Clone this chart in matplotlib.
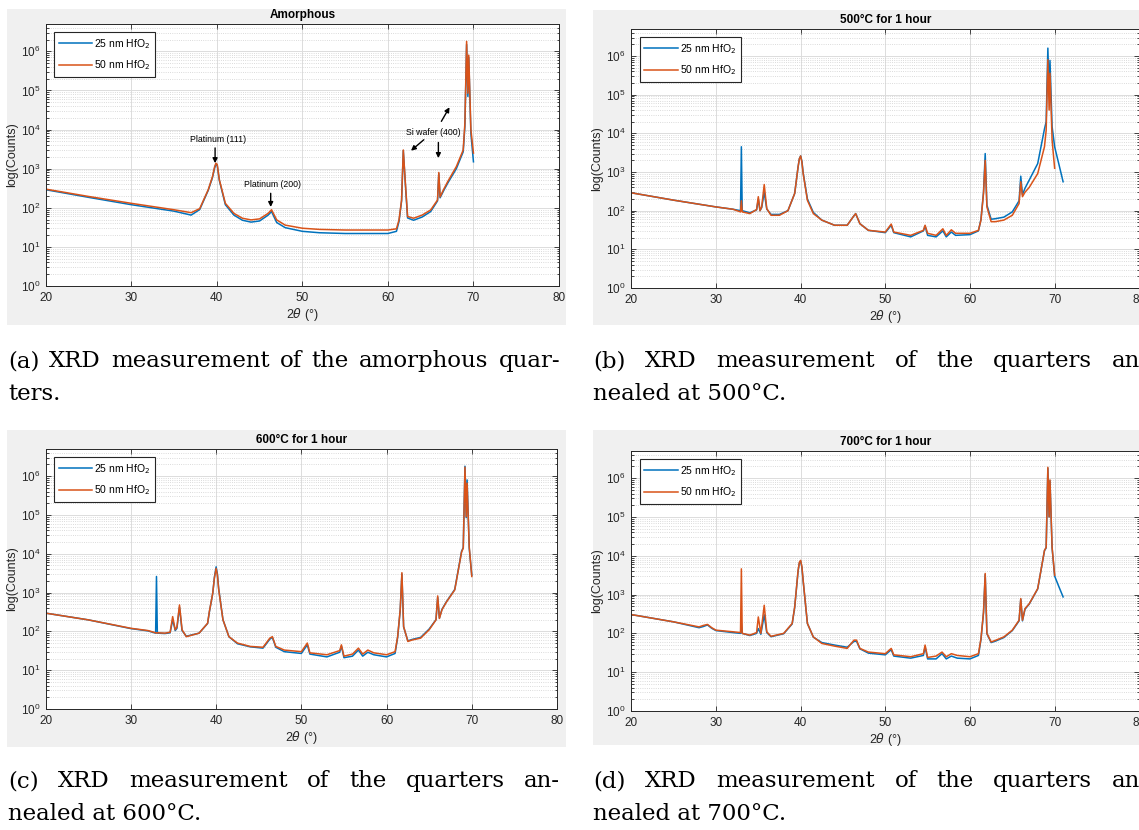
import numpy as np
import matplotlib.pyplot as plt
from matplotlib.patches import Rectangle

nan = np.nan

# ---- XRD scans, 2theta in degrees, counts ----
# amorphous
theta_a = [20, 25, 30, 35, 37, 38, 39, 39.5, 39.75, 39.9, 40.05, 40.3, 41, 42, 43, 44, 45, 46,
           46.4, 47, 48, 50, 52, 55, 58, 60, 61, 61.3, 61.6, 61.8, 62.0, 62.3, 63, 64, 65, 65.8,
           65.95, 66.1, 66.5, 67, 68, 68.8, 69.0, 69.2, 69.35, 69.45, 69.7, 70.0]
hfo25_a = [290, 185, 120, 82, 65, 90, 280, 600, 1050, 1300, 1200, 500, 120, 65, 48, 43, 46, 65,
           80, 42, 31, 25, 23, 22, 22, 22, 25, 45, 150, 2900, 550, 55, 48, 58, 80, 150,
           750, 180, 270, 430, 1000, 2700, 12000, 1.5e6, 70000, 7e5, 8000, 1500]
hfo50_a = [300, 195, 130, 89, 75, 95, 290, 630, 1130, 1380, 1280, 520, 130, 72, 54, 49, 52, 72,
           89, 49, 36, 30, 28, 27, 27, 27, 29, 49, 158, 3000, 600, 60, 54, 65, 88, 158,
           800, 190, 290, 470, 1130, 3000, 14500, 1.8e6, 85000, 8e5, 10000, 2500]

# 500 C
theta_b = [20, 25, 30, 32, 32.9, 33.0, 33.1, 34, 34.8, 35.0, 35.2, 35.4, 35.7, 36.0, 36.5, 37.5,
           38.5, 39.3, 39.7, 39.85, 40.0, 40.15, 40.3, 40.8, 41.5, 42.5, 44, 45.5, 46.2, 46.5, 47,
           48, 50, 50.7, 51, 53, 54.5, 54.7, 55, 56, 56.8, 57.2, 57.8, 58.3, 60, 61, 61.3, 61.6,
           61.8, 62.0, 62.5, 63, 64, 65, 65.8, 66.0, 66.2, 66.5, 67, 68, 68.8, 69.0, 69.2, 69.35,
           69.45, 69.7, 70.0, 70.5, 71.0]
hfo25_b = [290, 187, 125, 109, 100, 4500, 100, 88, 105, 200, 100, 120, 300, 110, 80, 80,
           100, 280, 1360, 2200, 2600, 1900, 950, 200, 90, 57, 42, 42, 69, 84, 46,
           31, 27, 42, 27, 21, 30, 40, 23, 21, 30, 21, 28, 23, 24, 30, 60, 300,
           3000, 140, 60, 62, 68, 93, 180, 780, 260, 380, 620, 1650, 13000, 20000, 1.6e6, 1e5,
           7.7e5, 15000, 4500, 1600, 560]
hfo50_b = [290, 187, 125, 109, 93, 180, 93, 84, 107, 230, 100, 125, 475, 113, 76, 76,
           100, 280, 1360, 2200, 2600, 1800, 910, 185, 84, 57, 42, 42, 69, 84, 46,
           31, 28, 45, 28, 23, 31, 42, 26, 23, 34, 23, 32, 26, 26, 31, 57, 280,
           2000, 125, 52, 52, 57, 76, 153, 560, 230, 300, 400, 910, 4500, 12000, 8e5, 40000,
           3.6e5, 6700, 1250, nan, nan]

# 600 C
theta_c = [20, 25, 30, 32, 32.9, 33.0, 33.1, 34, 34.6, 34.9, 35.2, 35.4, 35.7, 36.0, 36.5, 38,
           39, 39.2, 39.6, 39.8, 40.0, 40.15, 40.3, 40.8, 41.5, 42.5, 44, 45.5, 46.3, 46.6, 47,
           48, 50, 50.7, 51, 53, 54.5, 54.7, 55, 56, 56.7, 57.2, 57.8, 58.5, 60, 61, 61.3, 61.6,
           61.8, 62.0, 62.5, 63, 64, 65, 65.8, 66.0, 66.2, 66.5, 67, 68, 68.8, 69.0, 69.2, 69.35,
           69.45, 69.7, 70.0]
hfo25_c = [295, 198, 118, 103, 90, 2600, 90, 88, 92, 200, 105, 120, 420, 105, 75, 90,
           160, 310, 950, 2500, 4600, 3000, 1250, 200, 73, 48, 40, 37, 63, 70, 39,
           30, 27, 45, 26, 22, 29, 42, 21, 23, 33, 23, 29, 25, 22, 27, 70, 350,
           3000, 130, 57, 62, 70, 115, 200, 750, 220, 370, 570, 1200, 11500, 14500, 1.8e6, 85000,
           8e5, 14000, 2800]
hfo50_c = [295, 198, 120, 105, 92, 90, 92, 90, 95, 240, 110, 130, 480, 110, 73, 90,
           162, 320, 960, 2400, 4200, 2800, 1200, 200, 73, 50, 41, 39, 67, 73, 41,
           33, 30, 50, 28, 25, 32, 45, 23, 26, 37, 26, 33, 28, 25, 30, 73, 360,
           3250, 134, 55, 60, 67, 110, 198, 820, 215, 360, 560, 1170, 11000, 14000, 1.7e6, 90000,
           6.6e5, 15000, 2600]

# 700 C
theta_d = [20, 25, 28, 28.5, 29, 29.5, 30, 32, 32.9, 33.0, 33.1, 34, 34.8, 35.0, 35.3, 35.7,
           36.0, 36.5, 38, 39, 39.3, 39.7, 39.85, 40.0, 40.15, 40.3, 40.8, 41.5, 42.5, 44, 45.5,
           46.3, 46.6, 47, 48, 50, 50.7, 51, 53, 54.5, 54.7, 55, 56, 56.7, 57.2, 57.8, 58.5, 60,
           61, 61.3, 61.6, 61.8, 62.0, 62.5, 63, 64, 65, 65.8, 66.0, 66.2, 66.5, 67, 68, 68.8,
           69.0, 69.2, 69.35, 69.45, 69.7, 70.0, 70.5, 71.0]
hfo25_d = [305, 198, 140, 150, 165, 135, 118, 105, 100, 180, 100, 88, 100, 133, 95, 300,
           105, 82, 98, 175, 470, 4000, 6500, 7300, 5000, 2200, 180, 80, 58, 50, 44,
           62, 63, 40, 31, 28, 38, 26, 23, 27, 45, 22, 22, 30, 22, 26, 23, 22,
           27, 70, 340, 3300, 98, 58, 63, 78, 118, 210, 760, 210, 420, 570, 1400, 13500,
           16000, 1.8e6, 1e5, 8.5e5, 16000, 3000, 1600, 870]
hfo50_d = [305, 198, 147, 160, 170, 140, 121, 110, 105, 4600, 100, 90, 105, 265, 100, 530,
           110, 84, 100, 180, 480, 4200, 6800, 7600, 5200, 2300, 180, 81, 55, 47, 41,
           67, 67, 41, 33, 30, 41, 28, 25, 30, 50, 24, 26, 33, 25, 30, 27, 25,
           30, 73, 350, 3500, 100, 60, 66, 81, 121, 218, 790, 218, 435, 580, 1420, 13700,
           16500, 1.9e6, 1e5, 9e5, 16500, 3150, nan, nan]

titles = ['Amorphous', '500°C for 1 hour', '600°C for 1 hour', '700°C for 1 hour']
series_names = ['25 nm HfO$_2$', '50 nm HfO$_2$']

captions = [
    (['(a)', 'XRD', 'measurement', 'of', 'the', 'amorphous', 'quar-'], 'ters.'),
    (['(b)', 'XRD', 'measurement', 'of', 'the', 'quarters', 'an-'], 'nealed at 500°C.'),
    (['(c)', 'XRD', 'measurement', 'of', 'the', 'quarters', 'an-'], 'nealed at 600°C.'),
    (['(d)', 'XRD', 'measurement', 'of', 'the', 'quarters', 'an-'], 'nealed at 700°C.'),
]

BLUE = '#0072BD'
ORANGE = '#D95319'
AXC = '#262626'

plt.rcParams['font.family'] = ['Liberation Sans', 'DejaVu Sans']
plt.rcParams['mathtext.fontset'] = 'dejavusans'

W, H = 1139, 830
fig = plt.figure(figsize=(W / 100, H / 100), dpi=100)
fig.patch.set_facecolor('white')


def px_box(x0, y0, x1, y1):
    return [x0 / W, 1 - y1 / H, (x1 - x0) / W, (y1 - y0) / H]


# grey figure windows behind each plot
for x0, y0, x1, y1 in [(7, 9, 566, 325), (593, 10, 1145, 325),
                       (7, 430, 566, 747), (593, 430, 1145, 745)]:
    fig.patches.append(Rectangle((x0 / W, 1 - y1 / H), (x1 - x0) / W, (y1 - y0) / H,
                                 transform=fig.transFigure, facecolor='#f0f0f0',
                                 edgecolor='none', zorder=-5))

panels = [
    (theta_a, hfo25_a, hfo50_a, (45.7, 24, 559, 286)),
    (theta_b, hfo25_b, hfo50_b, (631.3, 29, 1139.3, 288)),
    (theta_c, hfo25_c, hfo50_c, (45.7, 449, 557, 709)),
    (theta_d, hfo25_d, hfo50_d, (631.3, 451, 1139.3, 711)),
]

axes = []
for i, (tt, y25, y50, box) in enumerate(panels):
    ax = fig.add_axes(px_box(*box))
    ax.set_zorder(1)
    ax.plot(tt, y25, color=BLUE, lw=1.1, label=series_names[0])
    ax.plot(tt, y50, color=ORANGE, lw=1.1, label=series_names[1])
    ax.set_yscale('log')
    ax.set_xlim(20, 80)
    ax.set_ylim(1, 5e6)
    ax.set_xticks(range(20, 81, 10))
    ax.set_yticks([10.0 ** k for k in range(7)])
    ax.set_axisbelow(True)
    ax.grid(True, which='major', color='#dcdcdc', lw=0.7)
    ax.yaxis.grid(True, which='minor', color='#cfcfcf', ls=':', lw=0.6)
    ax.tick_params(which='both', direction='in', top=True, right=True,
                   colors=AXC, labelsize=8.5, width=0.6)
    ax.tick_params(which='major', length=3.5, pad=4)
    ax.tick_params(which='minor', length=1.8)
    for s in ax.spines.values():
        s.set_color(AXC)
        s.set_linewidth(0.7)
    ax.set_title(titles[i], fontsize=8.5, fontweight='bold', pad=4, color='black')
    ax.set_xlabel(r'2$\theta$ (°)', fontsize=9, color=AXC, labelpad=2)
    ax.set_ylabel('log(Counts)', fontsize=9, color=AXC, labelpad=2)
    leg = ax.legend(loc='upper left', fontsize=7.5, fancybox=False, framealpha=1,
                    edgecolor=AXC, handlelength=3.2, handletextpad=0.2,
                    labelspacing=0.75, borderaxespad=0.8, borderpad=0.45)
    leg.get_frame().set_linewidth(0.8)
    axes.append(ax)

# peak labels on the amorphous scan
ax = axes[0]
arw = dict(arrowstyle='-|>', color='black', lw=1.0, mutation_scale=7, shrinkA=0, shrinkB=0)
ax.text(40.1, 5500, 'Platinum (111)', fontsize=6.3, ha='center', va='center')
ax.annotate('', xy=(39.8, 10 ** 3.14), xytext=(39.8, 10 ** 3.53), arrowprops=arw)
ax.text(46.5, 400, 'Platinum (200)', fontsize=6.3, ha='center', va='center')
ax.annotate('', xy=(46.3, 10 ** 2.02), xytext=(46.3, 10 ** 2.37), arrowprops=arw)
ax.text(65.3, 8600, 'Si wafer (400)', fontsize=6.3, ha='center', va='center')
ax.annotate('', xy=(62.7, 10 ** 3.46), xytext=(64.2, 10 ** 3.74), arrowprops=arw)
ax.annotate('', xy=(65.9, 10 ** 3.27), xytext=(65.9, 10 ** 3.67), arrowprops=arw)
ax.annotate('', xy=(67.2, 10 ** 4.57), xytext=(66.25, 10 ** 4.21), arrowprops=arw)

# sub-figure captions, first line justified
cap_font = dict(family='DejaVu Serif', fontsize=16.5, color='black')
renderer = fig.canvas.get_renderer()


def justified(words, x0, x1, y):
    texts = [fig.text(0, 1 - y / H, w, va='baseline', ha='left', **cap_font) for w in words]
    widths = [t.get_window_extent(renderer).width for t in texts]
    gap = (x1 - x0 - sum(widths)) / (len(words) - 1)
    x = x0
    for t, w in zip(texts, widths):
        t.set_x(x / W)
        x += w + gap


cap_pos = [(8, 560, 367), (593, 1148, 367), (8, 560, 787), (593, 1148, 787)]
for (words, tail), (x0, x1, y) in zip(captions, cap_pos):
    justified(words, x0, x1, y)
    fig.text(x0 / W, 1 - (y + 33) / H, tail, va='baseline', ha='left', **cap_font)

fig.savefig('out.png', dpi=100)
